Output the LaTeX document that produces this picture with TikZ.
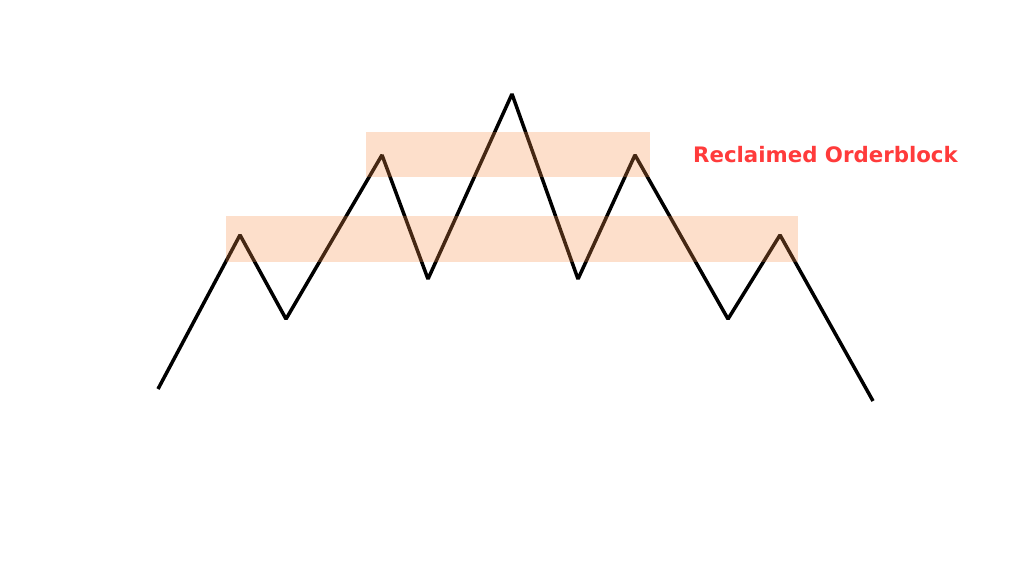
\documentclass[tikz,border=0pt]{standalone}
\usepackage{fontspec}
\setmainfont{DejaVu Sans}
\definecolor{obfill}{RGB}{250,143,71}
\definecolor{lbl}{RGB}{255,59,59}
\begin{document}
\begin{tikzpicture}[x=1pt,y=-1pt,
  price/.style={line width=3.5pt,black,line join=bevel},
  block/.style={fill=obfill,fill opacity=0.28,draw=none},
  lab/.style={text=lbl,font=\bfseries\fontsize{21.3}{25}\selectfont,anchor=west,inner sep=0pt}]
\useasboundingbox[fill=white] (0,0) rectangle (1024,576);
\coordinate (p0) at (158,389);
\coordinate (p1) at (240,235);
\coordinate (p2) at (286,319);
\coordinate (p3) at (382,155);
\coordinate (p4) at (428,279);
\coordinate (p5) at (512,94);
\coordinate (p6) at (578,279);
\coordinate (p7) at (635,155);
\coordinate (p8) at (728,319);
\coordinate (p9) at (780,235);
\coordinate (p10) at (873,401);
\draw[price] (p0)--(p1)--(p2)--(p3)--(p4)--(p5)--(p6)--(p7)--(p8)--(p9)--(p10);
\path[block] (366,132) rectangle (650,177);
\path[block] (226,216) rectangle (798,262);
\node[lab] (label) at (693,155) {Reclaimed Orderblock};
\end{tikzpicture}
\end{document}
